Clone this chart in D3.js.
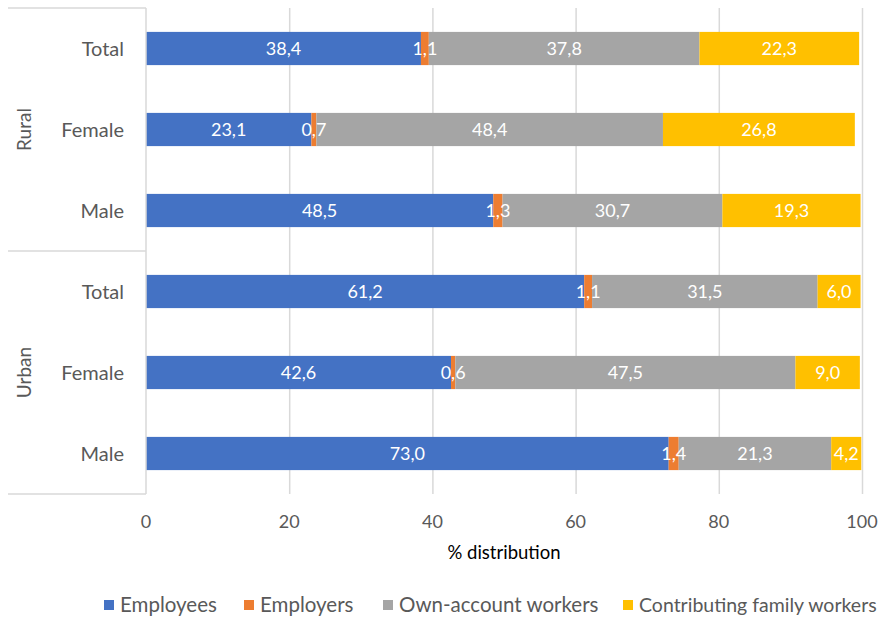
<!DOCTYPE html>
<html><head><meta charset="utf-8">
<script src="https://cdn.jsdelivr.net/npm/d3@7"></script>
<style>body{margin:0;background:#fff}svg{display:block}text{font-family:Lato,"Open Sans",sans-serif}</style>
</head><body><svg id="c" width="883" height="621"></svg>
<script>
const groups = ["Rural","Urban"];
const categories = ["Total","Female","Male"];
const rowKeys = ["Rural|Total","Rural|Female","Rural|Male","Urban|Total","Urban|Female","Urban|Male"];
const series = ["Employees","Employers","Own-account workers","Contributing family workers"];
const employees   = [38.4, 23.1, 48.5, 61.2, 42.6, 73.0];
const employers   = [1.1, 0.7, 1.3, 1.1, 0.6, 1.4];
const ownAccount  = [37.8, 48.4, 30.7, 31.5, 47.5, 21.3];
const contributing= [22.3, 26.8, 19.3, 6.0, 9.0, 4.2];
const xTicks = [0,20,40,60,80,100];
const colors = ["#4472C4","#ED7D31","#A5A5A5","#FFC000"];

const svg = d3.select("#c");
const L = 146, R = 862, T = 8, B = 494;
const x = d3.scaleLinear().domain([0,100]).range([L,R]);
const y = d3.scaleBand().domain(rowKeys).range([T,B]).paddingInner(0.59).paddingOuter(0.295);

// gridlines
svg.append("g").selectAll("line").data(xTicks.slice(1)).join("line")
  .attr("x1",d=>x(d)+0.5).attr("x2",d=>x(d)+0.5).attr("y1",T).attr("y2",B)
  .attr("stroke","#d9d9d9").attr("stroke-width",1.5);

// stacked data
const table = rowKeys.map((k,i)=>({key:k, Employees:employees[i], Employers:employers[i], "Own-account workers":ownAccount[i], "Contributing family workers":contributing[i]}));
const stack = d3.stack().keys(series)(table);
const fmt = v => v.toFixed(1).replace(".",",");

const barG = svg.append("g"), labG = svg.append("g");
stack.forEach((s,si)=>{
  barG.append("g").selectAll("rect").data(s).join("rect")
    .attr("x",d=>x(d[0])).attr("width",d=>x(d[1])-x(d[0]))
    .attr("y",d=>y(d.data.key)).attr("height",y.bandwidth())
    .attr("fill",colors[si]);
  labG.append("g").selectAll("text").data(s).join("text")
    .attr("x",d=>(x(d[0])+x(d[1]))/2).attr("y",d=>y(d.data.key)+y.bandwidth()/2)
    .attr("dy","0.36em").attr("text-anchor","middle").attr("fill","#fff")
    .attr("font-size",18).text(d=>fmt(d[1]-d[0]));
});

// category axis lines
const ax = svg.append("g").attr("stroke","#d9d9d9").attr("stroke-width",1.5).attr("fill","none");
ax.append("line").attr("x1",L).attr("x2",L).attr("y1",T).attr("y2",B);
[T, (T+B)/2, B].forEach(yy=>ax.append("line").attr("x1",8).attr("x2",L).attr("y1",yy).attr("y2",yy));

// category labels
svg.append("g").selectAll("text").data(rowKeys).join("text")
  .attr("x",124).attr("y",d=>y(d)+y.bandwidth()/2).attr("dy","0.36em")
  .attr("text-anchor","end").attr("font-size",20).attr("fill","#595959")
  .text(d=>d.split("|")[1]);

// group labels
groups.forEach((g,i)=>{
  const cy = T + (B-T)/4 + i*(B-T)/2;
  svg.append("text").attr("transform",`translate(31,${cy}) rotate(-90)`)
    .attr("text-anchor","middle").attr("font-size",19).attr("fill","#595959").text(g);
});

// x axis tick labels
svg.append("g").selectAll("text").data(xTicks).join("text")
  .attr("x",d=>x(d)).attr("y",528).attr("text-anchor","middle")
  .attr("font-size",18).attr("fill","#595959").text(d=>d);

svg.append("text").attr("x",(L+R)/2).attr("y",559).attr("text-anchor","middle")
  .attr("font-size",18.5).attr("fill","#000").text("% distribution");

// legend
const legX = [104, 244, 383, 623];
const lg = svg.append("g");
series.forEach((s,i)=>{
  lg.append("rect").attr("x",legX[i]).attr("y",600).attr("width",10).attr("height",10).attr("fill",colors[i]);
  lg.append("text").attr("x",legX[i]+16).attr("y",612).attr("font-size",i===3?19.5:20.5).attr("fill","#595959").text(s);
});
</script></body></html>
